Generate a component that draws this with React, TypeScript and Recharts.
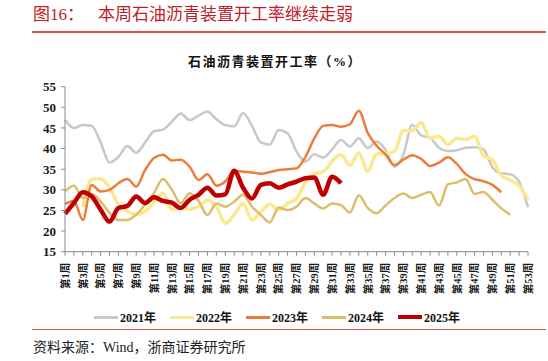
import { LineChart, Line, XAxis, YAxis } from 'recharts'

const weeks = Array.from({ length: 53 }, (_, i) => `第${i + 1}周`)
const yTicks = [15, 20, 25, 30, 35, 40, 45, 50, 55]

const y2021 = [
  47, 45, 45.7, 45.5, 41.5, 36.6, 38, 40.6, 39, 41.5,
  44.2, 44.6, 46.5, 48.5, 46.9, 48, 49, 47.1, 45.7, 45.4,
  48.6, 45.5, 41.5, 41, 44.5, 43.7, 39.3, 36.8, 38.6, 37.8,
  39.8, 42.1, 40.5, 42.5, 40.1, 41.7, 39.7, 35.6, 38.5, 45.8,
  43.2, 42.6, 40.2, 39.4, 39.6, 40.2, 40.3, 39.8, 35.5, 34,
  33.8, 32, 25.8,
]
const y2022 = [
  null, null, 25.8, 32.5, 32.7, 30.5, 26.5, 24.8, 24, 24.8,
  27, 29.2, 25.2, 25.6, 25.3, 26, 27.5, 25.9, 21.9, 23.9,
  26.7, 22.7, 24.7, 26.5, 25.1, 26.7, 27.9, 31.8, 33.9, 34.4,
  37, 38.5, 35.9, 38.9, 34.5, 38.7, 38.8, 39.3, 44.3, 44.3,
  46.3, 42.5, 43, 41, 42.5, 42.2, 43, 38.2, 37.3, 33.5,
  32.3, 31, 27.7,
]
const y2023 = [
  26.6, 27.3, 22.7, 31.2, 29.6, 30, 31.6, 32.6, 30.8, 34.8,
  37.7, 38.5, 37.1, 37.3, 35.6, 32.4, 33.8, 31, 32, 34.6,
  34.4, 34.2, 33.9, 34.3, 34.8, 35, 35.2, 38, 42.5, 45.5,
  45.7, 45.3, 45.9, 49.2, 43.8, 40.7, 38.6, 36, 37.3, 38.4,
  37.5, 35.8, 36.6, 37.9, 36.3, 33.8, 32.6, 32.1, 31.2, 29.4,
  null, null, null,
]
const y2024 = [
  29.6, 31, 28, 29, 27.2, 24.4, 22.7, 22.7, 24, 26.4,
  29.2, 32.6, 30, 26.8, 29.2, 27.3, 23.9, 26.7, 25.9, 27.1,
  28.8, 25.9, 23.9, 22.1, 25.7, 25.1, 25.9, 28, 26.7, 25.5,
  26.7, 26.3, 24.5, 28.7, 25.6, 24.3, 26.2, 28, 29.1, 28,
  28.8, 29.5, 26.2, 31.3, 31.8, 32.6, 29, 29.5, 27.6, 25.5,
  24, null, null,
]
const y2025 = [
  24.2, 26.8, 29.4, 28.4, 25.2, 22.3, 25.6, 26.1, 28.4, 26.8,
  28.2, 27.3, 26.9, 25.6, 27.6, 28.8, 30.5, 28.6, 28.9, 34.6,
  30.5, 27.9, 31.2, 31.6, 30.5, 31.3, 32, 32.8, 33, 28.8,
  33.2, 31.6,
]

const series = [
  { key: '2021年', values: y2021, color: '#C8C8C8', width: 2.5 },
  { key: '2022年', values: y2022, color: '#FAE98E', width: 3.5 },
  { key: '2023年', values: y2023, color: '#ED7D3A', width: 2.5 },
  { key: '2024年', values: y2024, color: '#DBBD6C', width: 2.5 },
  { key: '2025年', values: y2025, color: '#C00000', width: 4.5 },
]

const data = weeks.map((w, i) => {
  const row: Record<string, string | number | null> = { week: w }
  series.forEach((s) => {
    row[s.key] = s.values[i] ?? null
  })
  return row
})

const serif = '"Liberation Serif", "Noto Sans CJK SC", serif'

const WeekTick = (props: any) => {
  const { x, y, payload, index } = props
  if (index % 2 !== 0) return <g />
  return (
    <g transform={`translate(${x},${y})`}>
      <text
        transform="rotate(-90)"
        textAnchor="end"
        dy="0.36em"
        fontSize={10.5}
        fontWeight="bold"
        fontFamily={serif}
        fill="#1a1a1a"
      >
        {payload.value}
      </text>
    </g>
  )
}

export default function App() {
  return (
    <div style={{ position: 'absolute', left: 0, top: 0, width: 548, height: 361, background: '#fff', fontFamily: serif }}>
      <div style={{ position: 'absolute', left: 33, top: 4, fontSize: 17, color: '#C0202A', whiteSpace: 'nowrap', lineHeight: '22px' }}>
        <span>图16：</span>
        <span style={{ marginLeft: 14 }}>本周石油沥青装置开工率继续走弱</span>
      </div>
      <div style={{ position: 'absolute', left: 32, top: 31, width: 514, height: 1.5, background: '#D9534F' }} />
      <div style={{ position: 'absolute', left: 0, width: 548, top: 53, textAlign: 'center', fontSize: 13, fontWeight: 'bold', letterSpacing: 1.5, color: '#111', lineHeight: '18px' }}>
        <span style={{ marginLeft: 2 }}>石油沥青装置开工率（%）</span>
      </div>

      <div style={{ position: 'absolute', left: 0, top: 0 }}>
        <LineChart width={548} height={361} data={data} margin={{ top: 86.7, right: 20, bottom: 59.3, left: 0 }}>
          <XAxis
            dataKey="week"
            interval={0}
            tick={<WeekTick />}
            tickSize={4}
            tickMargin={7}
            height={50}
            stroke="#8C8C8C"
          />
          <YAxis
            domain={[15, 55]}
            ticks={yTicks}
            interval={0}
            width={65}
            tickSize={4}
            tickMargin={5}
            stroke="#8C8C8C"
            tick={{ fontSize: 13, fontWeight: 'bold', fontFamily: serif, fill: '#1a1a1a' }}
          />
          {series.map((s) => (
            <Line
              key={s.key}
              dataKey={s.key}
              type="monotone"
              stroke={s.color}
              strokeWidth={s.width}
              dot={false}
              activeDot={false}
              isAnimationActive={false}
            />
          ))}
        </LineChart>
      </div>

      <div style={{ position: 'absolute', left: 94, top: 309, display: 'flex', whiteSpace: 'nowrap' }}>
        {series.map((s) => (
          <div key={s.key} style={{ width: 76, display: 'flex', alignItems: 'center', height: 16 }}>
            <div style={{ width: 24, height: s.key === '2025年' ? 4 : 3, background: s.color, marginRight: 2 }} />
            <span style={{ fontSize: 12, fontWeight: 'bold', color: '#111' }}>{s.key}</span>
          </div>
        ))}
      </div>

      <div style={{ position: 'absolute', left: 32, top: 329, width: 514, height: 1, background: '#D9534F' }} />
      <div style={{ position: 'absolute', left: 33, top: 339, fontSize: 14, color: '#222', whiteSpace: 'nowrap', lineHeight: '18px' }}>
        资料来源：Wind，浙商证券研究所
      </div>
    </div>
  )
}
